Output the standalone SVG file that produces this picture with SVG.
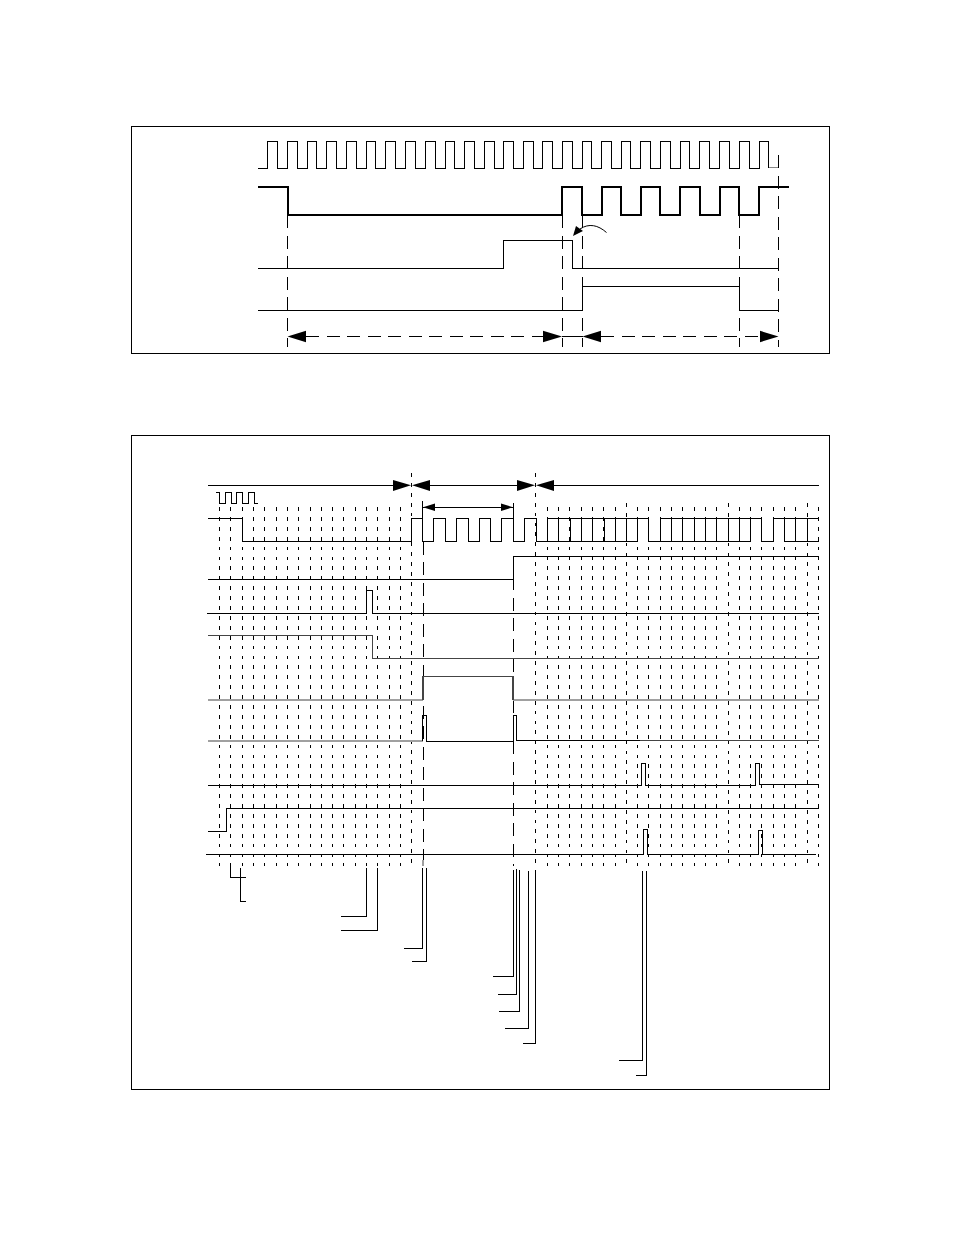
<svg xmlns="http://www.w3.org/2000/svg" width="954" height="1235" viewBox="0 0 954 1235">
<style>
path,rect{fill:none;stroke:#000;stroke-width:1;shape-rendering:crispEdges}
.thick{stroke-width:2}
.grey{stroke:#a0a0a0;stroke-width:2}
.soft{stroke:#444;stroke-width:1.5}
.dot{stroke-dasharray:3.8 6.1}
.dash{stroke-dasharray:13 7.5}
.head{fill:#000;stroke:none}
</style>
<rect width="954" height="1235" style="fill:#fff;stroke:none"/>
<g id="frames">
<rect x="131.5" y="126.5" width="698" height="227"/>
<rect x="131.5" y="435.5" width="698" height="654"/>
</g>
<g id="top-guides">
<path class="dash" d="M287.5 215V347M562.5 215V347M582.5 215V347M739.5 215V347M778.5 155V347"/>
</g>
<g id="top-waves">
<path id="top-clock" d="M258 168.3H267.3V141.7H277.7V168.3H287.3V141.7H297.3V168.3H307V141.7H316.7V168.3H326.3V141.7H336.7V168.3H346.7V141.7H356V168.3H366V141.7H375.7V168.3H385.7V141.7H395.3V168.3H405.7V141.7H415V168.3H425.3V141.7H435V168.3H445V141.7H454.7V168.3H464.7V141.7H474.3V168.3H484.3V141.7H494V168.3H503.3V141.7H513.3V168.3H523.3V141.7H533V168.3H542.7V141.7H552.3V168.3H562.3V141.7H572.3V168.3H582V141.7H591.7V168.3H601.7V141.7H611V168.3H621V141.7H630.7V168.3H640.7V141.7H650.3V168.3H660.7V141.7H670.3V168.3H680.3V141.7H689.3V168.3H699.3V141.7H709.3V168.3H719.3V141.7H729V168.3H739V141.7H749V168.3H759V141.7H768.7V167.5"/>
<path d="M768.7 167.5H778" style="stroke:#888"/>
<path id="top-data" class="thick" d="M258 187H287.5V215H562.3V187H582.3V215H601.7V187H621V215H640.5V187H660V215H680V187H699.5V215H719.5V187H739.2V215H759V187H789"/>
<path id="top-line3" d="M258 268.3H503.5V240.3H572.5V268.3H778.5"/>
<path id="top-line4" d="M258 310.3H582.5V286H739.5V310.3H778.5"/>
</g>
<g id="top-arrows">
<path class="dash" d="M306 336.5H543M601 336.5H760"/>
<path d="M562 336.5H582.5"/>
<polygon class="head" points="287.5,336.5 306,330.8 306,342.2"/>
<polygon class="head" points="562,336.5 543,330.8 543,342.2"/>
<polygon class="head" points="582.5,336.5 601,330.8 601,342.2"/>
<polygon class="head" points="778.5,336.5 760,330.8 760,342.2"/>
<path d="M606.5 232.5C598 225 589 223 580 229" style="shape-rendering:auto"/>
<polygon class="head" points="573,236 576,226 583,231"/>
</g>
<g id="grid">
<path class="dot" d="M219.3 507V866M230.3 507V866M242.3 507V866M253.3 507V866M264.3 507V866M276 507V866M287.3 507V866M298.3 507V866M310 507V866M321.3 507V866M332 507V866M343.3 507V866M355 507V866M366.3 507V866M377.3 507V866M389.3 507V866M400.3 507V866M547.3 507V866M558.3 507V866M569.3 507V866M581.7 507V866M592.3 507V866M603.3 507V866M615.3 507V866M637.3 507V866M648.3 507V866M660.3 507V866M671.3 507V866M682.3 507V866M694.3 507V866M705.3 507V866M716.3 507V866M739.3 507V866M750.3 507V866M761.3 507V866M773.3 507V866M784.3 507V866M795.3 507V866M818.3 507V866"/>
<path class="dot" d="M626.3 503V866M728.3 503V866M807.3 503V866M411.3 473V866M535.3 473V866"/>
<path class="dash" d="M423.3 541.5V866M513.3 556.5V866"/>
<path class="grey" d="M423.3 860V866"/>
</g>
<g id="bottom-arrows">
<path d="M208 485.3H393M430 485.3H517M554 485.3H819M423 507.3H513"/>
<polygon class="head" points="411,485.3 393,480 393,491"/>
<polygon class="head" points="412,485.3 430,480 430,491"/>
<polygon class="head" points="535,485.3 517,480 517,491"/>
<polygon class="head" points="536,485.3 554,480 554,491"/>
<polygon class="head" points="423,507.3 435,503.5 435,511"/>
<polygon class="head" points="513,507.3 501,503.5 501,511"/>
</g>
<g id="bottom-waves">
<path id="mini-clock" d="M216 492.3H219.3V503.5H225.3V492.3H231V503.5H236.7V492.3H242.2V503.5H248V492.3H254V503.5H257.5"/>
<path id="wave-2" d="M208 518.3H242.5V541.3H411V518.3H422.7V541.3H433.7V518.3H445V541.3H456.7V518.3H468V541.3H479.3V518.3H490.7V541.3H501.7V518.3H513.3V541.3H524.7V518.3H536V541.3H637.3V518.3M547.3 518.3H648.3V541.3H750.3V518.3M660.3 518.3H761.3V541.3H773.3V518.3H819M784.3 518.3V541.3H819M547.3 518.3V541.3M558.7 518.3V541.3M570 518.3V541.3M581.3 518.3V541.3M592.7 518.3V541.3M604 518.3V541.3M615.3 518.3V541.3M626.7 518.3V541.3M660.3 518.3V541.3M671.3 518.3V541.3M682.3 518.3V541.3M694.3 518.3V541.3M705.3 518.3V541.3M716.3 518.3V541.3M728.3 518.3V541.3M739.3 518.3V541.3M795.3 518.3V541.3M807.3 518.3V541.3"/>
<path d="M422.7 501V518.3M513.3 503V541.3"/>
<path id="wave-3" d="M207.5 579.3H513.3V556.7H819"/>
<path id="wave-4" d="M207 613.7H366.3V590.7H372.3V613.7H819"/>
<path id="wave-5" class="soft" d="M207.5 635.7H372.3V658.3H819"/>
<path id="wave-6a" class="grey" d="M207.5 700H423M513 700H819"/>
<path id="wave-6b" class="soft" d="M423 700V676.5H513V700"/>
<path id="wave-7a" class="grey" d="M207.5 741H422.7"/>
<path id="wave-7b" d="M422.7 741V715.3H426.5V741.3H513V715.3H516.3V740.7H640"/>
<path id="wave-7c" class="soft" d="M640 740.7H819"/>
<path id="wave-8" d="M207.5 785.3H641.5V763.3H645.5V785.3H755.3V763.3H759.7V784.3H819"/>
<path id="wave-9" d="M207.5 831.3H226.3V808.3H819"/>
<path id="wave-10" d="M206 854.5H643.5V829.3H647.7V854.5H758.3V830.3H762.7V854.5H816"/>
</g>
<g id="leaders">
<path d="M230.3 866V877.3H245.7M240.3 868V901.5H245.7M366.5 868V916.3H341M377.3 868V930.3H341M422.7 868V948.3H404M426.7 868V961.3H412M513.3 870V976.3H493M516.7 869V994.3H498M519.5 870V1011.3H499.3M528.5 871V1028.3H505M535.3 870V1043.3H523M642.7 871V1060.3H619M646.3 871V1075.3H636"/>
</g>
</svg>
